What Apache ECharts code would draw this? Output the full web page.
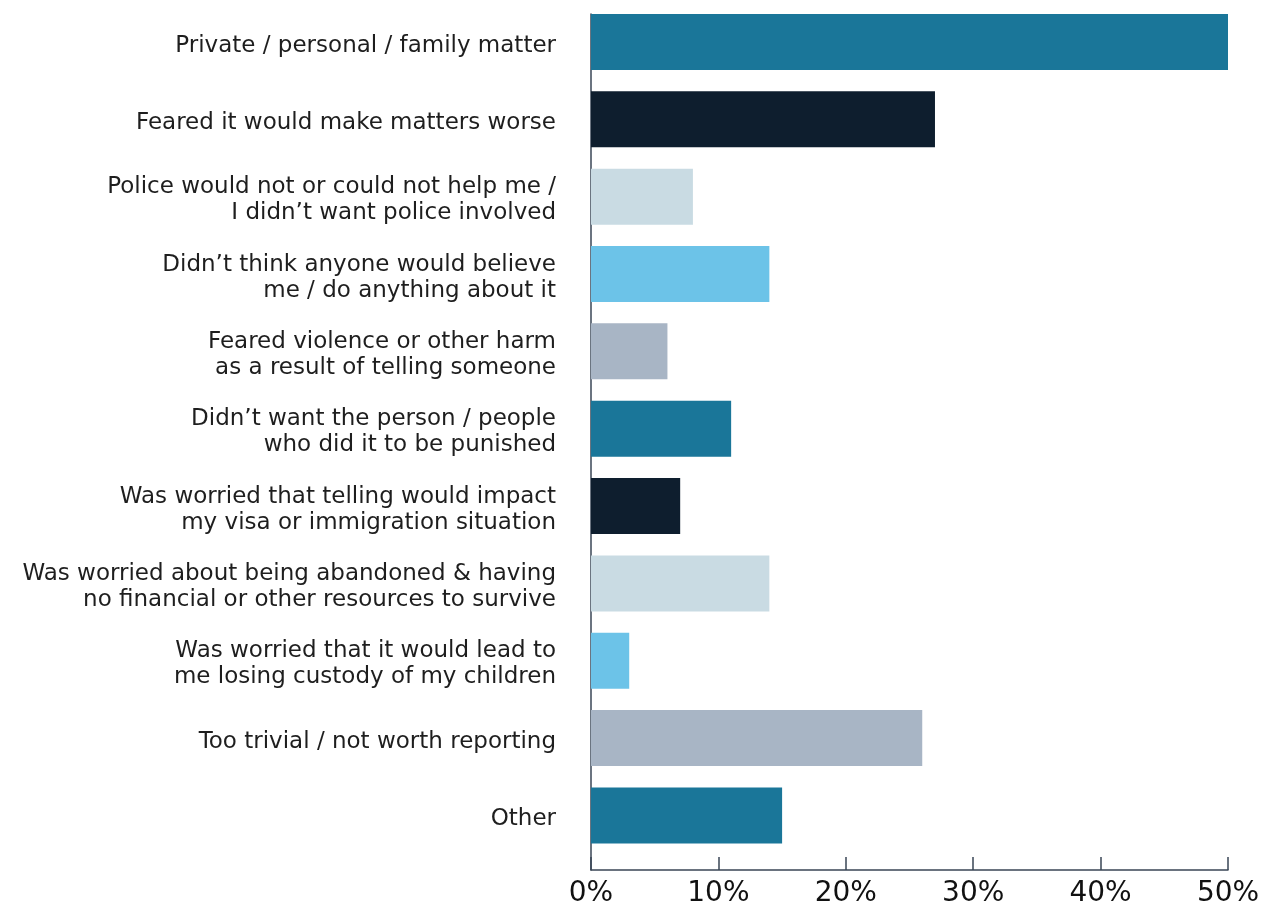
<!DOCTYPE html>
<html>
<head>
<meta charset="utf-8">
<script src="https://cdn.jsdelivr.net/npm/echarts@6/dist/echarts.min.js"></script>
<style>
  html, body { margin: 0; padding: 0; background: #fff; }
  #chart { width: 1263px; height: 908px; }
</style>
</head>
<body>
<div id="chart"></div>
<script>
// Reasons for not telling anyone (share of respondents, %)
const categories = [
  'Private / personal / family matter',
  'Feared it would make matters worse',
  'Police would not or could not help me /\nI didn\u2019t want police involved',
  'Didn\u2019t think anyone would believe\nme / do anything about it',
  'Feared violence or other harm\nas a result of telling someone',
  'Didn\u2019t want the person / people\nwho did it to be punished',
  'Was worried that telling would impact\nmy visa or immigration situation',
  'Was worried about being abandoned & having\nno financial or other resources to survive',
  'Was worried that it would lead to\nme losing custody of my children',
  'Too trivial / not worth reporting',
  'Other'
];
const values = [50, 27, 8, 14, 6, 11, 7, 14, 3, 26, 15];
const colors = ['#1a7699', '#0e1e2e', '#c9dbe3', '#6cc3e8', '#a8b5c5'];
const xTicks = { min: 0, max: 50, interval: 10 };

const FONT = '"DejaVu Sans", "Open Sans", sans-serif';
const AXIS_COLOR = '#3a4656';
const chart = echarts.init(document.getElementById('chart'));

chart.setOption({
  animation: false,
  grid: [
    // bars
    { left: 591, right: 35, top: 3.3, height: 850.8 },
    // frame: axis lines, ticks and tick labels
    { left: 591, right: 35, top: 14, bottom: 33.5 },
    // category labels, sitting slightly below the bar centres
    { left: 591, right: 35, top: 7, height: 850.8 }
  ],
  xAxis: [
    {
      gridIndex: 0, type: 'value', min: xTicks.min, max: xTicks.max, interval: xTicks.interval,
      show: false
    },
    {
      gridIndex: 1, type: 'value', min: xTicks.min, max: xTicks.max, interval: xTicks.interval,
      axisLine: { show: true, lineStyle: { color: AXIS_COLOR, width: 1.5 } },
      axisTick: { show: true, inside: true, length: 13, lineStyle: { color: AXIS_COLOR, width: 1.5 } },
      splitLine: { show: false },
      axisLabel: {
        formatter: '{value}%', color: '#111', fontFamily: FONT, fontSize: 28, margin: 10
      }
    },
    {
      gridIndex: 2, type: 'value', min: xTicks.min, max: xTicks.max, show: false
    }
  ],
  yAxis: [
    {
      gridIndex: 0, type: 'category', data: categories, inverse: true,
      axisLine: { show: false }, axisTick: { show: false }, axisLabel: { show: false }
    },
    {
      gridIndex: 1, type: 'value', min: 0, max: 1,
      axisLine: { show: true, lineStyle: { color: AXIS_COLOR, width: 1.5 } },
      axisTick: { show: false }, axisLabel: { show: false }, splitLine: { show: false }
    },
    {
      gridIndex: 2, type: 'category', data: categories, inverse: true,
      axisLine: { show: false }, axisTick: { show: false }, splitLine: { show: false },
      axisLabel: {
        color: '#1e1e1e', fontFamily: FONT, fontSize: 23, lineHeight: 26, margin: 35, align: 'right'
      }
    }
  ],
  series: [
    {
      type: 'bar', xAxisIndex: 0, yAxisIndex: 0,
      barWidth: 56,
      data: values.map((v, i) => ({ value: v, itemStyle: { color: colors[i % colors.length] } }))
    }
  ]
});
</script>
</body>
</html>
